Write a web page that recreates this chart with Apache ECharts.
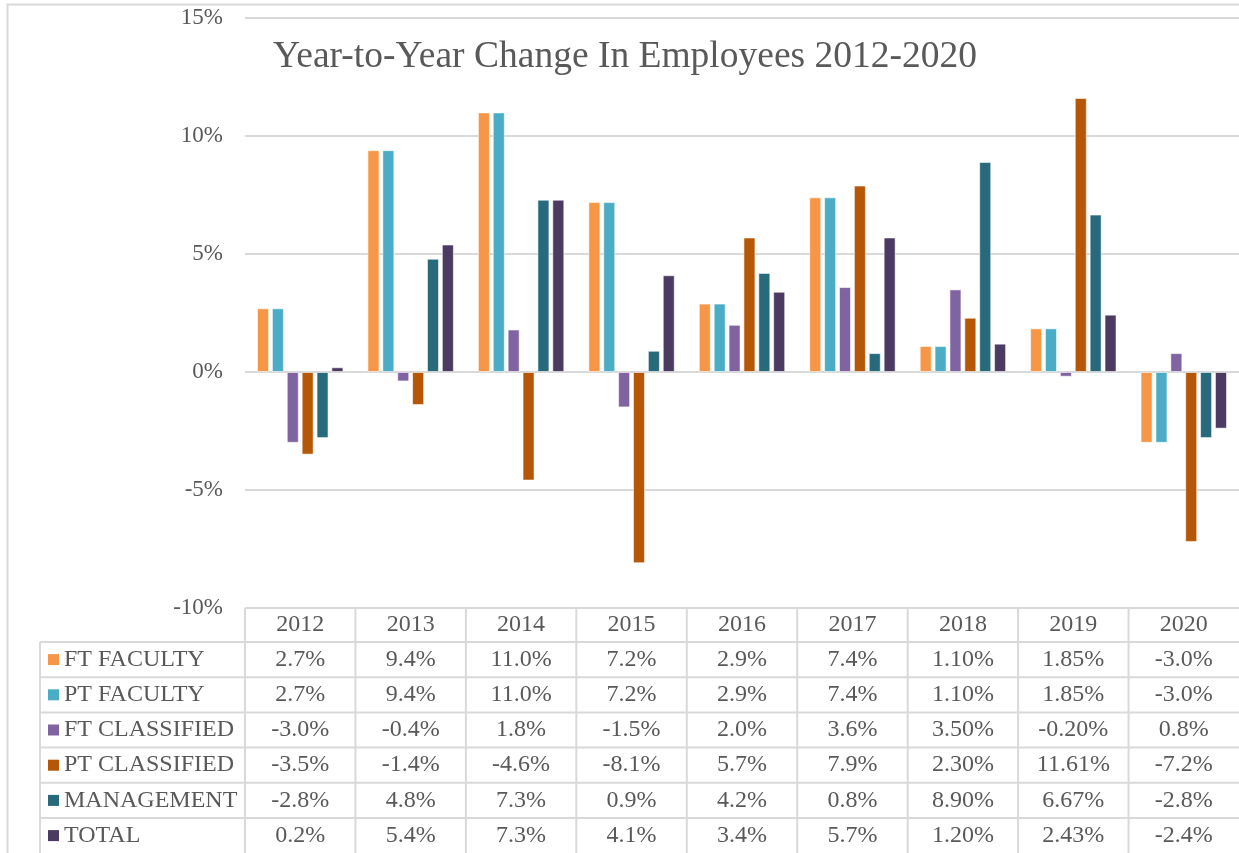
<!DOCTYPE html>
<html>
<head>
<meta charset="utf-8">
<script src="https://cdn.jsdelivr.net/npm/echarts@6/dist/echarts.min.js"></script>
<style>
html,body{margin:0;padding:0;background:#fff;}
#c{width:1239px;height:853px;}
</style>
</head>
<body>
<div id="c"></div>
<script>
const years = ['2012','2013','2014','2015','2016','2017','2018','2019','2020'];
const seriesNames = ['FT FACULTY','PT FACULTY','FT CLASSIFIED','PT CLASSIFIED','MANAGEMENT','TOTAL'];
const ftFaculty    = [2.7, 9.4, 11.0, 7.2, 2.9, 7.4, 1.10, 1.85, -3.0];
const ptFaculty    = [2.7, 9.4, 11.0, 7.2, 2.9, 7.4, 1.10, 1.85, -3.0];
const ftClassified = [-3.0, -0.4, 1.8, -1.5, 2.0, 3.6, 3.50, -0.20, 0.8];
const ptClassified = [-3.5, -1.4, -4.6, -8.1, 5.7, 7.9, 2.30, 11.61, -7.2];
const management   = [-2.8, 4.8, 7.3, 0.9, 4.2, 0.8, 8.90, 6.67, -2.8];
const total        = [0.2, 5.4, 7.3, 4.1, 3.4, 5.7, 1.20, 2.43, -2.4];
const tableDecimals = [1, 1, 1, 1, 1, 1, 2, 2, 1];
const yTicks = [-10, -5, 0, 5, 10, 15];

const seriesData = [ftFaculty, ptFaculty, ftClassified, ptClassified, management, total];
const colors = ['#F79646', '#4BACC6', '#8064A2', '#B65708', '#276A7C', '#4B3A61'];

const FONT = '"Liberation Serif", "Times New Roman", serif';
const TXT = '#595959';
const LINE = '#D9D9D9';

const GRID = {left: 245, right: 0, top: 18, bottom: 245};

const chart = echarts.init(document.getElementById('c'), null, {renderer: 'canvas'});

const series = seriesNames.map((n, i) => ({
  name: n,
  type: 'bar',
  data: seriesData[i],
  barWidth: 12,
  barGap: '24%',
  itemStyle: {color: colors[i], borderColor: 'rgba(255,255,255,0.55)', borderWidth: 1},
  silent: true
}));

chart.setOption({
  animation: false,
  backgroundColor: '#fff',
  title: {
    text: 'Year-to-Year Change In Employees 2012-2020',
    left: 268, top: 33,
    textStyle: {fontFamily: FONT, fontSize: 37.5, fontWeight: 'normal', color: TXT}
  },
  grid: GRID,
  xAxis: {
    type: 'category',
    data: years,
    axisLine: {show: false, onZero: false},
    axisTick: {show: false},
    axisLabel: {fontFamily: FONT, fontSize: 24, color: TXT, margin: 5},
    splitLine: {show: false}
  },
  yAxis: {
    type: 'value',
    min: yTicks[0], max: yTicks[yTicks.length - 1], interval: 5,
    axisLine: {show: false},
    axisTick: {show: false},
    axisLabel: {fontFamily: FONT, fontSize: 23, color: TXT, margin: 22, formatter: '{value}%'},
    splitLine: {lineStyle: {color: LINE, width: 2}}
  },
  series: series
});

// Build the data table under the plot from the arrays, positioned via the library's scales
const colW = chart.getModel().getComponent('xAxis', 0).axis.getBandWidth();
const colLeft = years.map((y, i) => chart.convertToPixel({xAxisIndex: 0}, i) - colW / 2);
const tableRight = 1239;
const yBottom = chart.convertToPixel({yAxisIndex: 0}, yTicks[0]);
const headerBottom = 642;
const rowH = 35.2;
const rowTops = seriesNames.map((n, i) => headerBottom + i * rowH);
const tableLeft = 40;
const g = [];
// chart area border
g.push({type: 'rect', shape: {x: 7.5, y: 4.5, width: 1400, height: 1000}, style: {fill: null, stroke: LINE, lineWidth: 2}, silent: true});
// vertical lines
colLeft.forEach(x => g.push({type: 'line', shape: {x1: x, y1: yBottom, x2: x, y2: 853}, style: {stroke: LINE, lineWidth: 2}, silent: true}));
g.push({type: 'line', shape: {x1: tableLeft, y1: headerBottom, x2: tableLeft, y2: 853}, style: {stroke: LINE, lineWidth: 2}, silent: true});
// horizontal lines
rowTops.forEach(y => g.push({type: 'line', shape: {x1: tableLeft, y1: y, x2: tableRight, y2: y}, style: {stroke: LINE, lineWidth: 2}, silent: true}));
// row labels & cells
seriesNames.forEach((n, r) => {
  const cy = rowTops[r] + rowH / 2;
  g.push({type: 'rect', shape: {x: 48, y: cy - 5.5, width: 11, height: 11}, style: {fill: colors[r]}, silent: true});
  g.push({type: 'text', x: 64, y: cy, style: {text: n, font: '24px ' + FONT, fill: TXT, textVerticalAlign: 'middle', textAlign: 'left'}, silent: true});
  seriesData[r].forEach((v, c) => {
    g.push({type: 'text', x: colLeft[c] + colW / 2, y: cy, style: {text: v.toFixed(tableDecimals[c]) + '%', font: '24px ' + FONT, fill: TXT, textVerticalAlign: 'middle', textAlign: 'center'}, silent: true});
  });
});
chart.setOption({graphic: g});
</script>
</body>
</html>
